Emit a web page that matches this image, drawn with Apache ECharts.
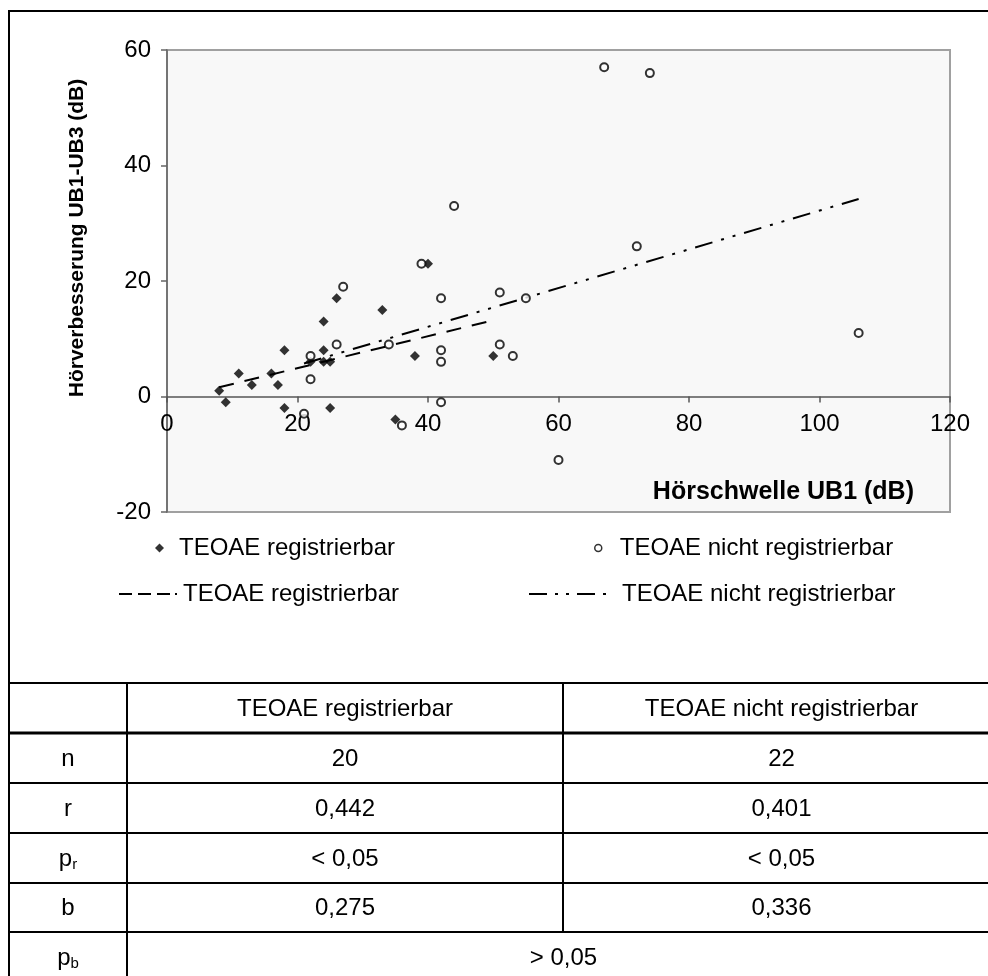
<!DOCTYPE html>
<html>
<head>
<meta charset="utf-8">
<script src="https://cdn.jsdelivr.net/npm/echarts@6/dist/echarts.min.js"></script>
<style>
html,body{margin:0;padding:0;background:#fff;}
#chart{width:988px;height:976px;}
</style>
</head>
<body>
<div id="chart"></div>
<script>
// ---- data ----
const regX   = [8, 9, 11, 13, 16, 17, 18, 18, 22, 24, 24, 24, 25, 25, 26, 33, 35, 38, 40, 50];
const regY   = [1, -1, 4, 2, 4, 2, 8, -2, 6, 8, 13, 6, 6, -2, 17, 15, -4, 7, 23, 7];
const nichtX = [21, 22, 22, 26, 27, 34, 36, 39, 42, 42, 42, 42, 44, 51, 51, 53, 55, 60, 67, 72, 74, 106];
const nichtY = [-3, 7, 3, 9, 19, 9, -5, 23, 17, 8, 6, -1, 33, 18, 9, 7, 17, -11, 57, 26, 56, 11];
const regTrendX   = [8, 50];
const regTrendY   = [1.6, 13.2];
const nichtTrendX = [21, 106];
const nichtTrendY = [5.7, 34.2];
const xTicks = [0, 20, 40, 60, 80, 100, 120];
const yTicks = [-20, 0, 20, 40, 60];
const xTitle = 'Hörschwelle UB1 (dB)';
const yTitle = 'Hörverbesserung UB1-UB3 (dB)';
const nameReg = 'TEOAE registrierbar';
const nameNicht = 'TEOAE nicht registrierbar';
const tableHeader = ['', 'TEOAE registrierbar', 'TEOAE nicht registrierbar'];
const statLabels = ['n', 'r', 'p_r', 'b', 'p_b'];
const statReg   = ['20', '0,442', '< 0,05', '0,275'];
const statNicht = ['22', '0,401', '< 0,05', '0,336'];
const statBoth  = '> 0,05';

// ---- helpers ----
const FONT = 'Liberation Sans, Arial, Helvetica, sans-serif';
const zip = (xs, ys) => xs.map((x, i) => [x, ys[i]]);
const trendPrefix = 'Trend ';

const chart = echarts.init(document.getElementById('chart'), null, {renderer: 'canvas'});

// plot geometry
const G = {left: 167, top: 50, width: 783, height: 462};
const yMin = yTicks[0], yMax = yTicks[yTicks.length - 1];
const zeroOffset = -G.height * (0 - yMin) / (yMax - yMin); // move x axis up to y = 0

// table layout
const rowY = [683, 733, 783, 833, 883, 932, 982];
const colX = [9, 127, 563, 1000];
const graphics = [];
graphics.push({type: 'rect', shape: {x: 9, y: 11, width: 1000, height: 1000},
  style: {fill: null, stroke: '#000', lineWidth: 2}, silent: true});
rowY.slice(0, 6).forEach((y, i) => {
  graphics.push({type: 'line', shape: {x1: 9, y1: y, x2: 1000, y2: y},
    style: {stroke: '#000', lineWidth: i === 1 ? 3 : 2}, silent: true});
});
graphics.push({type: 'line', shape: {x1: colX[1], y1: rowY[0], x2: colX[1], y2: 990},
  style: {stroke: '#000', lineWidth: 2}, silent: true});
graphics.push({type: 'line', shape: {x1: colX[2], y1: rowY[0], x2: colX[2], y2: rowY[5]},
  style: {stroke: '#000', lineWidth: 2}, silent: true});

// y axis title
graphics.push({type: 'text', x: 77, y: 238, rotation: Math.PI / 2, silent: true,
  style: {text: yTitle, fill: '#000', font: 'bold 21px ' + FONT, align: 'center', verticalAlign: 'middle'}});

function cellText(txt, cx, cy) {
  let t = txt;
  if (txt.indexOf('_') >= 0) {
    const parts = txt.split('_');
    t = '{m|' + parts[0] + '}{s|' + parts[1] + '}';
  }
  return {type: 'text', x: cx, y: cy, silent: true,
    style: {text: t, fill: '#000', font: '24px ' + FONT, align: 'center', verticalAlign: 'middle',
      rich: {m: {fontSize: 24, fontFamily: FONT, fill: '#000', lineHeight: 28},
             s: {fontSize: 15, fontFamily: FONT, fill: '#000', padding: [12, 0, 0, 0], lineHeight: 28}}}};
}
for (let c = 1; c < 3; c++) {
  graphics.push(cellText(tableHeader[c], (colX[c] + colX[c + 1]) / 2, (rowY[0] + rowY[1]) / 2 + 1));
}
statLabels.forEach((lab, r) => {
  const cy = (rowY[r + 1] + rowY[r + 2]) / 2 + 1;
  graphics.push(cellText(lab, (colX[0] + colX[1]) / 2, cy));
  if (r < statReg.length) {
    graphics.push(cellText(statReg[r], (colX[1] + colX[2]) / 2, cy));
    graphics.push(cellText(statNicht[r], (colX[2] + colX[3]) / 2, cy));
  } else {
    graphics.push(cellText(statBoth, (colX[1] + colX[3]) / 2, cy));
  }
});

const legendText = {fontSize: 24, fontFamily: FONT, color: '#000', lineHeight: 28};
const fmt = name => name.indexOf(trendPrefix) === 0 ? name.slice(trendPrefix.length) : name;
const hiddenSymbol = {color: 'rgba(0,0,0,0)', borderWidth: 0, opacity: 0};

const option = {
  animation: false,
  backgroundColor: '#fff',
  textStyle: {fontFamily: FONT},
  grid: Object.assign({show: true, backgroundColor: '#f8f8f8', borderColor: '#a0a0a0', borderWidth: 2}, G),
  xAxis: {
    type: 'value', min: xTicks[0], max: xTicks[xTicks.length - 1], interval: 20,
    position: 'bottom', offset: zeroOffset,
    name: xTitle, nameLocation: 'end', nameGap: -36,
    nameTextStyle: {fontSize: 25, fontWeight: 'bold', color: '#000', fontFamily: FONT,
      align: 'right', verticalAlign: 'top', padding: [83, 0, 0, 0]},
    axisLine: {onZero: false, lineStyle: {color: '#555', width: 1.5}},
    axisTick: {show: true, inside: false, length: 6, lineStyle: {color: '#555', width: 1.5}},
    axisLabel: {fontSize: 24, color: '#000', margin: 16, fontFamily: FONT,
      showMinLabel: true, showMaxLabel: true, hideOverlap: false},
    splitLine: {show: false}
  },
  yAxis: {
    type: 'value', min: yMin, max: yMax, interval: 20,
    axisLine: {show: true, onZero: false, lineStyle: {color: '#666', width: 1.5}},
    axisTick: {show: true, inside: false, length: 6, lineStyle: {color: '#666', width: 1.5}},
    axisLabel: {fontSize: 24, color: '#000', margin: 16, fontFamily: FONT},
    splitLine: {show: false}
  },
  legend: [
    {left: 155, top: 534, padding: 0, data: [nameReg], icon: 'diamond', itemWidth: 9, itemHeight: 9,
      formatter: fmt, textStyle: Object.assign({padding: [0, 0, 0, 10]}, legendText),
      itemStyle: {color: '#000'}},
    {left: 594, top: 534, padding: 0, data: [nameNicht], icon: 'circle', itemWidth: 7, itemHeight: 7,
      formatter: fmt, textStyle: Object.assign({padding: [0, 0, 0, 13]}, legendText),
      itemStyle: {color: '#fff', borderColor: '#000', borderWidth: 1.5}},
    {left: 118, top: 580, padding: 0, data: [trendPrefix + nameReg], itemWidth: 59, itemHeight: 14,
      formatter: fmt, textStyle: Object.assign({padding: [0, 0, 0, 0]}, legendText),
      itemStyle: hiddenSymbol,
      lineStyle: {color: '#000', width: 2, type: [13, 6, 13, 6, 13, 5, 2, 40]}},
    {left: 528, top: 580, padding: 0, data: [trendPrefix + nameNicht], itemWidth: 88, itemHeight: 14,
      formatter: fmt, textStyle: Object.assign({padding: [0, 0, 0, 0]}, legendText),
      itemStyle: hiddenSymbol,
      lineStyle: {color: '#000', width: 2, type: [18, 8, 3, 8, 3, 8, 18, 8, 3, 40]}}
  ],
  graphic: graphics,
  series: [
    {name: trendPrefix + nameReg, type: 'line', data: zip(regTrendX, regTrendY), symbol: 'none',
      color: '#000', lineStyle: {color: '#000', width: 2, type: [15, 11]}, z: 2, silent: true},
    {name: trendPrefix + nameNicht, type: 'line', data: zip(nichtTrendX, nichtTrendY), symbol: 'none',
      color: '#000', lineStyle: {color: '#000', width: 2, type: [18, 9, 3, 9, 3, 9]}, z: 2, silent: true},
    {name: nameReg, type: 'scatter', data: zip(regX, regY), symbol: 'diamond', symbolSize: 10,
      itemStyle: {color: '#000'}, z: 3},
    {name: nameNicht, type: 'scatter', data: zip(nichtX, nichtY), symbol: 'circle', symbolSize: 8,
      itemStyle: {color: '#fff', borderColor: '#000', borderWidth: 2}, z: 4}
  ]
};
chart.setOption(option);
</script>
</body>
</html>
